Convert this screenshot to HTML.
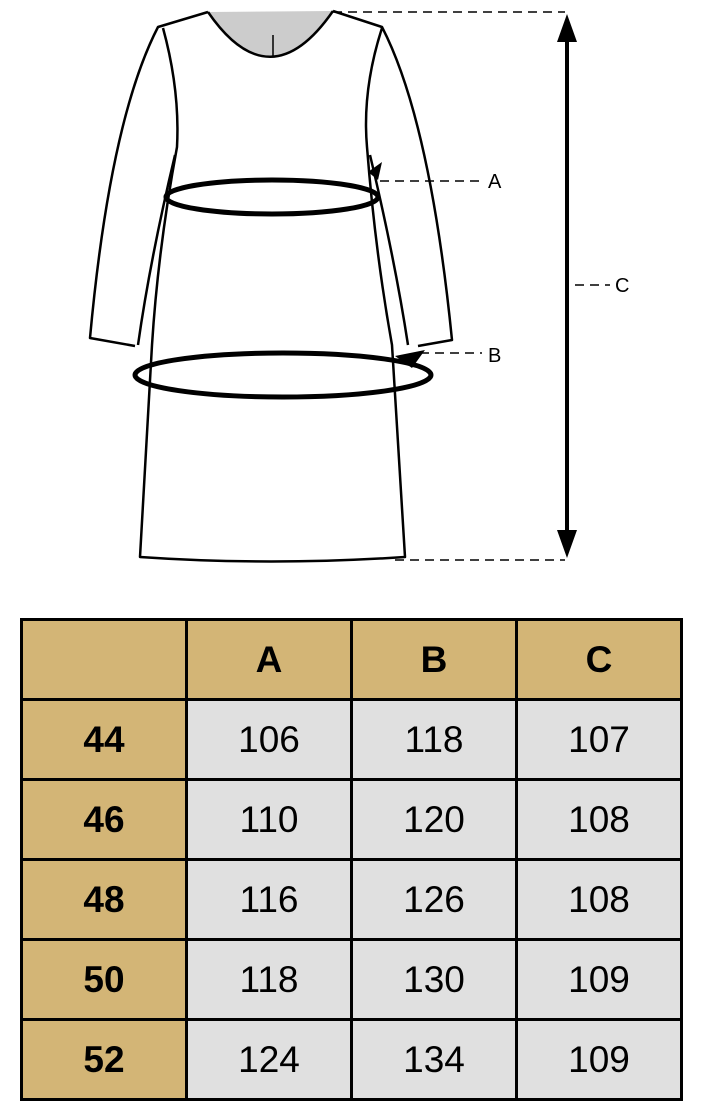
<!DOCTYPE html>
<html><head><style>
body{margin:0;width:701px;height:1112px;background:#fff;position:relative;overflow:hidden;font-family:"Liberation Sans",sans-serif}
svg{position:absolute;left:0;top:0}
table{position:absolute;left:20px;top:618px;border-collapse:collapse}
td{border:3px solid #000;width:162px;height:77px;text-align:center;font-size:37px;background:#e0e0e0;padding:0}
td.h{background:#d3b576;font-weight:bold}
</style></head><body>
<svg width="701" height="600" viewBox="0 0 701 600">
<g fill="none" stroke="#000" stroke-width="2.5" stroke-linejoin="round">
<path d="M208,12 Q270,102 333,11 Z" fill="#ccc" stroke="none"/>
<path d="M208,12 Q270,102 333,11"/>
<line x1="273" y1="35" x2="273" y2="57" stroke-width="1.5"/>
<path d="M208,12 L158,27 Q110,120 90,338 L135,346"/>
<path d="M333,11 L382,27 Q430,120 452,340 L418,346"/>
<path d="M163,28 Q180,90 177,147 Q158,250 152,345 L140,557 Q270,566 405,557 L392,345 Q375,250 367,147 Q362,90 382,28"/>
<path d="M175,155 Q150,260 138,345"/>
<path d="M370,155 Q395,260 408,345"/>
</g>
<g fill="none" stroke="#000" stroke-width="5">
<ellipse cx="272" cy="197" rx="106" ry="17"/>
<ellipse cx="283" cy="375" rx="148" ry="22"/>
</g>
<path d="M368,172 L382,162 L378,180 Z" fill="#000"/>
<path d="M395,356 L425,350 L412,368 Z" fill="#000"/>
<g stroke="#000" stroke-width="1.5" stroke-dasharray="9,6">
<line x1="333" y1="12" x2="565" y2="12"/>
<line x1="380" y1="181" x2="482" y2="181"/>
<line x1="420" y1="353" x2="482" y2="353"/>
<line x1="395" y1="560" x2="565" y2="560"/>
<line x1="575" y1="285" x2="610" y2="285"/>
</g>
<line x1="567" y1="30" x2="567" y2="540" stroke="#000" stroke-width="4"/>
<path d="M567,14 L557,42 L577,42 Z M567,558 L557,530 L577,530 Z" fill="#000"/>
<g font-family="Liberation Sans,sans-serif" font-size="20" fill="#000">
<text x="488" y="188">A</text>
<text x="488" y="362">B</text>
<text x="615" y="292">C</text>
</g>
</svg>
<table>
<tr><td class="h"></td><td class="h">A</td><td class="h">B</td><td class="h">C</td></tr>
<tr><td class="h">44</td><td>106</td><td>118</td><td>107</td></tr>
<tr><td class="h">46</td><td>110</td><td>120</td><td>108</td></tr>
<tr><td class="h">48</td><td>116</td><td>126</td><td>108</td></tr>
<tr><td class="h">50</td><td>118</td><td>130</td><td>109</td></tr>
<tr><td class="h">52</td><td>124</td><td>134</td><td>109</td></tr>
</table>
</body></html>
